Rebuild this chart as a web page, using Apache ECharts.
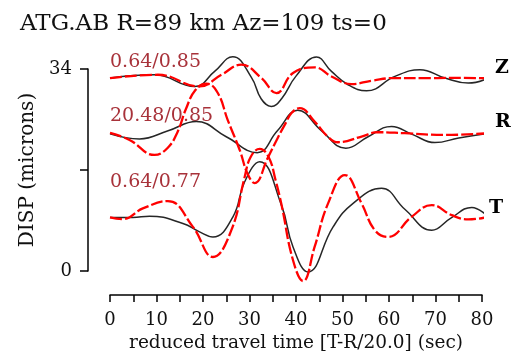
<!DOCTYPE html>
<html><head><meta charset="utf-8">
<script src="https://cdn.jsdelivr.net/npm/echarts@6/dist/echarts.min.js"></script>
<style>html,body{margin:0;padding:0;background:#fff}#c{width:519px;height:361px}</style>
</head><body><div id="c"></div>
<script>
// time (s) / displacement (microns, offset traces)
const zObs = [[0,32.48],[9.58,33.03],[18.2,31.06],[22.5,33.59],[26.4,36.07],[30.4,32.6],[32.5,29.0],[34.7,27.7],[36.9,29.0],[40,32.8],[44.4,36.02],[47.63,33.59],[51.2,31.35],[55.17,30.33],[61.26,32.75],[66.65,33.88],[72.03,32.48],[77.04,31.63],[81.35,32.48]];
const zSyn = [[0,32.48],[10.3,33.03],[19.27,31.06],[23.95,33.03],[28.25,34.72],[32.56,32.48],[35.79,29.95],[39.36,33.32],[44.03,34.27],[47.63,32.75],[51.94,31.47],[56.24,32.02],[61.26,32.48],[67,32.45],[74,32.5],[81.35,32.45]];
const rObs = [[0,23.08],[6.35,22.23],[12.5,23.6],[18.56,25.15],[25,22.6],[31.65,19.92],[36,23.6],[40.37,27.04],[45.5,23.6],[50.71,20.66],[55.5,22.6],[60.55,24.34],[65,23.0],[69.87,21.61],[75,22.4],[81.29,23.16]];
const rSyn = [[0,23.24],[4.2,22.06],[9.58,19.53],[12.38,20.71],[14.53,23.41],[16.26,27.13],[18.41,30.5],[20.78,31.52],[23.15,30.0],[25.3,25.44],[27.89,20.37],[29.61,16.32],[31.11,14.8],[33.92,19.02],[36.07,22.4],[37.57,24.6],[39.08,26.62],[40.8,27.41],[44.0,25.15],[46.84,22.62],[48.99,21.67],[54.1,22.62],[57.6,23.36],[63.4,23.19],[72.0,22.9],[81.29,23.19]];
const tObs = [[0,9.01],[4.9,9.01],[8.5,9.23],[15.68,8.0],[19.27,6.58],[22.14,5.74],[26.44,9.12],[28.96,15.02],[32.2,18.4],[36.86,11.09],[39.36,4.05],[42.6,-0.17],[47.98,7.43],[52.28,11.38],[58.4,13.91],[63.4,10.4],[69.2,6.87],[73.3,8.9],[77.8,10.7],[81.3,9.12]];
const tSyn = [[0,9.01],[2.7,8.73],[7.06,10.53],[12.45,11.77],[17.83,7.43],[22.14,2.36],[26.1,6.87],[28.96,15.82],[30.25,19.19],[32.2,20.54],[34.1,19.19],[35.6,15.31],[36.9,11.09],[39.36,1.81],[41.52,-1.69],[44.0,4.05],[46.9,11.38],[50.5,16.15],[54.1,11.38],[56.95,6.87],[59.8,5.74],[64.86,9.12],[69.2,11.09],[73.5,9.4],[77.05,8.68],[81.35,9.12]];
const xTicks = [0,10,20,30,40,50,60,70,80];
const yTickLabels = [0,34];
const compNames = ['Z','R','T'];
const stats = ['0.64/0.85','20.48/0.85','0.64/0.77'];

const serif = 'DejaVu Serif';
const chart = echarts.init(document.getElementById('c'));
function obs(data, name, off){
  return {type:'line', data, smooth:0.45, showSymbol:false, clip:false, z:2,
    lineStyle:{color:'#262626', width:1.5}, animation:false,
    endLabel:{show:true, formatter:name, fontFamily:serif, fontWeight:'bold', fontSize:19, color:'#000', distance:0, offset:off}};
}
function syn(data){
  return {type:'line', data, smooth:0.45, showSymbol:false, clip:false, z:3,
    lineStyle:{color:'#ff0000', width:2.3, type:[12,3]}, animation:false};
}
chart.setOption({
  animation:false,
  title:{text:'ATG.AB R=89 km Az=109 ts=0', left:15, top:8, textStyle:{fontFamily:serif, fontWeight:'normal', fontSize:23, color:'#111'}},
  grid:{left:110, right:37, top:69, bottom:90},
  xAxis:{type:'value', min:0, max:80, interval:5, offset:24,
    axisLine:{onZero:false, lineStyle:{color:'#000', width:1.5}},
    axisTick:{show:true, length:7, lineStyle:{color:'#000', width:1.5}},
    axisLabel:{margin:16, fontFamily:serif, fontSize:18, color:'#111', formatter:v=>xTicks.includes(v)?String(v):''},
    splitLine:{show:false},
    name:'reduced travel time [T-R/20.0] (sec)', nameLocation:'middle', nameGap:37,
    nameTextStyle:{fontFamily:serif, fontSize:18.5, color:'#111'}},
  yAxis:{type:'value', min:0, max:34, interval:17, offset:22,
    axisLine:{show:true, onZero:false, lineStyle:{color:'#000', width:1.5}},
    axisTick:{show:true, length:8, lineStyle:{color:'#000', width:1.5}},
    axisLabel:{margin:16, fontFamily:serif, fontSize:18, color:'#111', formatter:v=>yTickLabels.includes(v)?String(v):''},
    splitLine:{show:false},
    name:'DISP (microns)', nameLocation:'middle', nameGap:40, nameRotate:90,
    nameTextStyle:{fontFamily:serif, fontSize:20, color:'#111'}},
  graphic:[
    {type:'text', left:110, top:53, style:{text:stats[0], font:'19px "DejaVu Serif"', fill:'#a8323a'}},
    {type:'text', left:110, top:107, style:{text:stats[1], font:'19px "DejaVu Serif"', fill:'#a8323a'}},
    {type:'text', left:110, top:173, style:{text:stats[2], font:'19px "DejaVu Serif"', fill:'#a8323a'}}
  ],
  series:[
    obs(zObs, compNames[0], [11,-11]), obs(rObs, compNames[1], [11,-12]), obs(tObs, compNames[2], [5,-6]),
    syn(zSyn), syn(rSyn), syn(tSyn)
  ]
});
</script></body></html>
